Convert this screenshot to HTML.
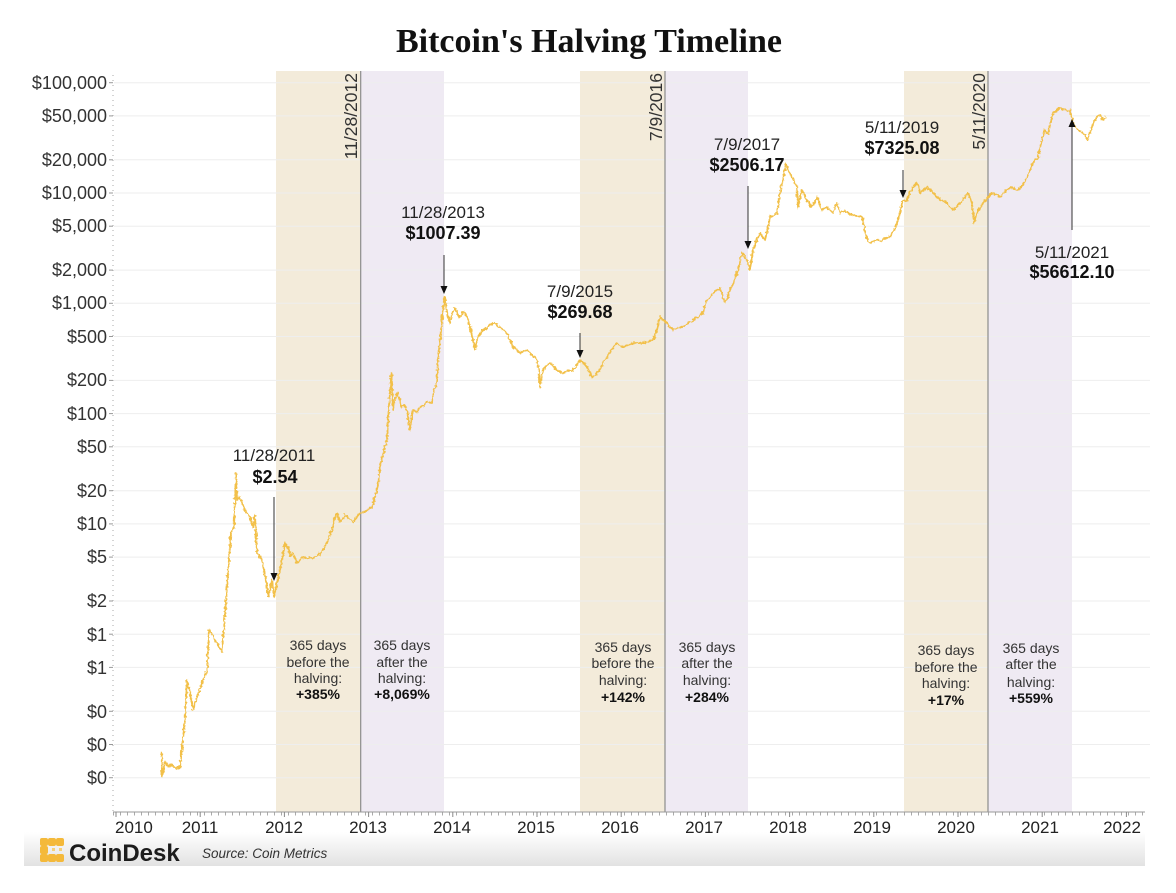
<!DOCTYPE html>
<html><head><meta charset="utf-8"><style>
html,body{margin:0;padding:0;background:#fff;}
svg{display:block;}
text{font-family:"Liberation Sans",Arial,sans-serif;}
</style></head><body>
<svg width="1176" height="893" viewBox="0 0 1176 893" xmlns="http://www.w3.org/2000/svg">
<defs>
<linearGradient id="fg" x1="0" y1="0" x2="0" y2="1">
<stop offset="0" stop-color="#ffffff"/>
<stop offset="1" stop-color="#e2e2e2"/>
</linearGradient>
<filter id="jit" filterUnits="userSpaceOnUse" x="100" y="60" width="1060" height="760">
<feTurbulence type="fractalNoise" baseFrequency="0.35" numOctaves="2" seed="3" result="n"/>
<feDisplacementMap in="SourceGraphic" in2="n" scale="4" xChannelSelector="R" yChannelSelector="G"/>
</filter>
</defs>
<rect width="1176" height="893" fill="#fff"/>
<rect x="24" y="832" width="1121" height="34" fill="url(#fg)"/>

<rect x="276" y="71" width="84.7" height="741" fill="#f3ebda"/>
<rect x="360.7" y="71" width="83.3" height="741" fill="#efeaf3"/>
<rect x="580" y="71" width="85" height="741" fill="#f3ebda"/>
<rect x="665" y="71" width="83" height="741" fill="#efeaf3"/>
<rect x="904" y="71" width="84" height="741" fill="#f3ebda"/>
<rect x="988" y="71" width="84" height="741" fill="#efeaf3"/>

<g stroke="#eeeeee" stroke-width="1">
<line x1="114" x2="1150" y1="82.7" y2="82.7"/>
<line x1="114" x2="1150" y1="115.9" y2="115.9"/>
<line x1="114" x2="1150" y1="159.8" y2="159.8"/>
<line x1="114" x2="1150" y1="193" y2="193"/>
<line x1="114" x2="1150" y1="226.2" y2="226.2"/>
<line x1="114" x2="1150" y1="270.1" y2="270.1"/>
<line x1="114" x2="1150" y1="303.3" y2="303.3"/>
<line x1="114" x2="1150" y1="336.5" y2="336.5"/>
<line x1="114" x2="1150" y1="380.4" y2="380.4"/>
<line x1="114" x2="1150" y1="413.6" y2="413.6"/>
<line x1="114" x2="1150" y1="446.8" y2="446.8"/>
<line x1="114" x2="1150" y1="490.7" y2="490.7"/>
<line x1="114" x2="1150" y1="523.9" y2="523.9"/>
<line x1="114" x2="1150" y1="557.1" y2="557.1"/>
<line x1="114" x2="1150" y1="601" y2="601"/>
<line x1="114" x2="1150" y1="634.2" y2="634.2"/>
<line x1="114" x2="1150" y1="667.4" y2="667.4"/>
<line x1="114" x2="1150" y1="711.3" y2="711.3"/>
<line x1="114" x2="1150" y1="744.5" y2="744.5"/>
<line x1="114" x2="1150" y1="777.7" y2="777.7"/>
</g>

<g stroke="#8c8c8c" stroke-width="1.2">
<line x1="360.7" x2="360.7" y1="71" y2="812"/>
<line x1="665" x2="665" y1="71" y2="812"/>
<line x1="988" x2="988" y1="71" y2="812"/>
</g>

<line x1="113" x2="113" y1="75" y2="812" stroke="#aaa" stroke-width="1" stroke-dasharray="1 4"/>
<g stroke="#999" stroke-width="1">
<line x1="109" x2="113" y1="82.7" y2="82.7"/><line x1="109" x2="113" y1="115.9" y2="115.9"/>
<line x1="109" x2="113" y1="159.8" y2="159.8"/><line x1="109" x2="113" y1="193" y2="193"/>
<line x1="109" x2="113" y1="226.2" y2="226.2"/><line x1="109" x2="113" y1="270.1" y2="270.1"/>
<line x1="109" x2="113" y1="303.3" y2="303.3"/><line x1="109" x2="113" y1="336.5" y2="336.5"/>
<line x1="109" x2="113" y1="380.4" y2="380.4"/><line x1="109" x2="113" y1="413.6" y2="413.6"/>
<line x1="109" x2="113" y1="446.8" y2="446.8"/><line x1="109" x2="113" y1="490.7" y2="490.7"/>
<line x1="109" x2="113" y1="523.9" y2="523.9"/><line x1="109" x2="113" y1="557.1" y2="557.1"/>
<line x1="109" x2="113" y1="601" y2="601"/><line x1="109" x2="113" y1="634.2" y2="634.2"/>
<line x1="109" x2="113" y1="667.4" y2="667.4"/><line x1="109" x2="113" y1="711.3" y2="711.3"/>
<line x1="109" x2="113" y1="744.5" y2="744.5"/><line x1="109" x2="113" y1="777.7" y2="777.7"/>
</g>
<g font-size="18" fill="#333" text-anchor="end">
<text x="107" y="89">$100,000</text>
<text x="107" y="122">$50,000</text>
<text x="107" y="166">$20,000</text>
<text x="107" y="199">$10,000</text>
<text x="107" y="232">$5,000</text>
<text x="107" y="276">$2,000</text>
<text x="107" y="309">$1,000</text>
<text x="107" y="343">$500</text>
<text x="107" y="386">$200</text>
<text x="107" y="420">$100</text>
<text x="107" y="453">$50</text>
<text x="107" y="497">$20</text>
<text x="107" y="530">$10</text>
<text x="107" y="563">$5</text>
<text x="107" y="607">$2</text>
<text x="107" y="641">$1</text>
<text x="107" y="674">$1</text>
<text x="107" y="718">$0</text>
<text x="107" y="751">$0</text>
<text x="107" y="784">$0</text>
</g>

<line x1="113" x2="1145" y1="812" y2="812" stroke="#999" stroke-width="1"/>
<line x1="113" x2="1145" y1="814" y2="814" stroke="#aaa" stroke-width="3" stroke-dasharray="1 6"/>
<g stroke="#888" stroke-width="1">
<line x1="116" x2="116" y1="812" y2="817"/><line x1="200.2" x2="200.2" y1="812" y2="817"/>
<line x1="284.4" x2="284.4" y1="812" y2="817"/><line x1="368.6" x2="368.6" y1="812" y2="817"/>
<line x1="452.8" x2="452.8" y1="812" y2="817"/><line x1="537" x2="537" y1="812" y2="817"/>
<line x1="621.2" x2="621.2" y1="812" y2="817"/><line x1="705.4" x2="705.4" y1="812" y2="817"/>
<line x1="789.6" x2="789.6" y1="812" y2="817"/><line x1="873.8" x2="873.8" y1="812" y2="817"/>
<line x1="958" x2="958" y1="812" y2="817"/><line x1="1042.2" x2="1042.2" y1="812" y2="817"/>
<line x1="1126.4" x2="1126.4" y1="812" y2="817"/>
</g>
<g font-size="17" fill="#222" text-anchor="middle">
<text x="115" y="833" text-anchor="start">2010</text>
<text x="200" y="833">2011</text>
<text x="284" y="833">2012</text>
<text x="368" y="833">2013</text>
<text x="452" y="833">2014</text>
<text x="536" y="833">2015</text>
<text x="620" y="833">2016</text>
<text x="704" y="833">2017</text>
<text x="788" y="833">2018</text>
<text x="872" y="833">2019</text>
<text x="956" y="833">2020</text>
<text x="1040" y="833">2021</text>
<text x="1122" y="833">2022</text>
</g>

<g font-size="17.5" fill="#333" text-anchor="end">
<text transform="translate(357,73) rotate(-90)">11/28/2012</text>
<text transform="translate(662,73) rotate(-90)">7/9/2016</text>
<text transform="translate(985,73) rotate(-90)">5/11/2020</text>
</g>

<polyline filter="url(#jit)" fill="none" stroke="#f2c048" stroke-width="1.8" stroke-linejoin="round" points="
161.7,751.7 162,777 165,762 168,766 172,765 176,768 180,768 181.7,750 185,720 187,680 190,693 193,710 197,697 203,680 207,670 209,630 212,634 215,640 218,645 222,652 225,613 228,573 231,533 234,527 236,473 237,500 240,497 245,510 250,517 253,527 255,515 257,553 262,560 265,575 267,587 268,597 270,590 272,580 274,597 277,583 281,565 285,543 288,548 291,556 293,553 297,563 300,560 303,557 308,558 313,558 317,556 320,553 324,548 327,543 330,535 332,530 334,520 337,513 340,522 343,518 345,515 349,518 353,523 356,518 360,513 366,511 372,507 375,497 378,485 380,467 383,455 386,443 387,440 389,405 390,393 391.5,373 393,410 395,400 397,393 400,400 402,407 405,405 407,410 409,425 410,430 412,415 413,410 417,412 420,407 424,405 427,402 432,403 433,393 436,385 437,380 438,360 440,340 442,320 444,300 445,297 447,313 450,323 452,315 455,308 458,315 460,317 463,312 465,313 468,320 470,327 473,340 475,350 477,340 480,333 484,330 487,327 490,325 493,323 497,325 500,327 503,330 507,333 510,340 513,347 517,350 520,353 524,351 527,350 532,355 537,360 539,370 540,387 542,375 543,370 547,365 550,363 553,366 557,370 560,372 563,373 568,371 573,370 577,365 580,360 584,363 587,367 590,373 592,377 596,374 600,370 603,363 607,357 610,352 613,348 617,343 620,346 623,347 628,345 633,343 638,343 643,343 648,342 653,340 657,330 660,317 663,320 667,323 670,327 673,330 678,328 683,327 688,323 693,320 698,317 703,313 705,306 707,300 710,297 713,293 717,290 720,288 725,303 728,296 730,290 734,282 737,273 740,262 742,253 745,257 747,260 750,270 753,250 757,240 760,233 763,238 765,240 768,228 770,217 774,215 777,213 780,193 783,180 786,163 788,170 790,174 792,177 795,183 797,187 798,207 800,197 802,190 805,196 807,200 810,204 812,207 815,201 817,197 820,205 822,210 825,208 827,207 830,210 833,213 835,207 837,203 840,213 844,211 847,212 850,214 853,215 857,216 862,217 864,225 865,233 868,240 870,243 874,241 877,240 880,241 883,240 887,238 890,237 894,230 897,223 900,212 902,203 904,201 907,200 910,193 913,187 917,183 920,193 924,190 927,187 930,190 933,193 937,197 940,200 944,201 947,203 950,207 953,210 958,205 963,200 966,196 968,193 970,198 972,203 974,223 976,216 977,213 980,208 983,203 986,200 988,197 991,194 993,193 997,195 1000,197 1003,193 1007,190 1010,188 1012,187 1015,189 1017,190 1020,188 1023,185 1027,177 1030,170 1033,163 1035,160 1038,158 1040,148 1042,140 1045,130 1048,135 1050,125 1053,113 1057,110 1060,107 1063,110 1065,109 1068,111 1070,110 1073,122 1076,128 1078,130 1083,133 1086,137 1088,140 1090,133 1092,127 1095,120 1097,117 1100,115 1103,120 1106,117"/>

<g stroke="#333" stroke-width="1">
<line x1="274" x2="274" y1="497" y2="574"/>
<line x1="444" x2="444" y1="255" y2="287"/>
<line x1="580" x2="580" y1="333" y2="351"/>
<line x1="748" x2="748" y1="186" y2="242"/>
<line x1="903" x2="903" y1="170" y2="191"/>
<line x1="1072" x2="1072" y1="230" y2="126"/>
</g>
<g fill="#111">
<polygon points="270.5,573 277.5,573 274,581"/>
<polygon points="440.5,286 447.5,286 444,294"/>
<polygon points="576.5,350 583.5,350 580,358"/>
<polygon points="744.5,241 751.5,241 748,249"/>
<polygon points="899.5,190 906.5,190 903,198"/>
<polygon points="1068.5,127 1075.5,127 1072,119"/>
</g>

<g text-anchor="middle" fill="#222">
<text x="274" y="461" font-size="17">11/28/2011</text>
<text x="275" y="483" font-size="18" font-weight="bold" fill="#111">$2.54</text>
<text x="443" y="218" font-size="17">11/28/2013</text>
<text x="443" y="239" font-size="18" font-weight="bold" fill="#111">$1007.39</text>
<text x="580" y="297" font-size="17">7/9/2015</text>
<text x="580" y="318" font-size="18" font-weight="bold" fill="#111">$269.68</text>
<text x="747" y="150" font-size="17">7/9/2017</text>
<text x="747" y="171" font-size="18" font-weight="bold" fill="#111">$2506.17</text>
<text x="902" y="133" font-size="17">5/11/2019</text>
<text x="902" y="154" font-size="18" font-weight="bold" fill="#111">$7325.08</text>
<text x="1072" y="258" font-size="17">5/11/2021</text>
<text x="1072" y="278" font-size="18" font-weight="bold" fill="#111">$56612.10</text>
</g>

<g text-anchor="middle" font-size="14" fill="#333">
<text x="318" y="650">365 days</text><text x="318" y="667">before the</text><text x="318" y="683">halving:</text><text x="318" y="699" font-weight="bold" fill="#111">+385%</text>
<text x="402" y="650">365 days</text><text x="402" y="667">after the</text><text x="402" y="683">halving:</text><text x="402" y="699" font-weight="bold" fill="#111">+8,069%</text>
<text x="623" y="652">365 days</text><text x="623" y="668">before the</text><text x="623" y="685">halving:</text><text x="623" y="702" font-weight="bold" fill="#111">+142%</text>
<text x="707" y="652">365 days</text><text x="707" y="668">after the</text><text x="707" y="685">halving:</text><text x="707" y="702" font-weight="bold" fill="#111">+284%</text>
<text x="946" y="655">365 days</text><text x="946" y="672">before the</text><text x="946" y="688">halving:</text><text x="946" y="705" font-weight="bold" fill="#111">+17%</text>
<text x="1031" y="653">365 days</text><text x="1031" y="669">after the</text><text x="1031" y="687">halving:</text><text x="1031" y="703" font-weight="bold" fill="#111">+559%</text>
</g>

<text x="589" y="52" text-anchor="middle" font-weight="bold" font-size="34" fill="#111" style="font-family:'Liberation Serif',serif">Bitcoin's Halving Timeline</text>

<g fill="#f4b93a">
<rect x="40" y="838" width="8" height="8" rx="2"/>
<rect x="48" y="838" width="8" height="8" rx="2"/>
<rect x="56" y="838" width="8" height="8" rx="2"/>
<rect x="40" y="846" width="8" height="8" rx="2"/>
<rect x="40" y="854" width="8" height="8" rx="2"/>
<rect x="48" y="854" width="8" height="8" rx="2"/>
<rect x="56" y="854" width="8" height="8" rx="2"/>
</g>
<g fill="#f6d17a">
<rect x="52" y="848" width="3" height="3"/>
<rect x="59" y="848" width="3" height="3"/>
</g>
<text x="69" y="861" font-size="24" font-weight="bold" fill="#1c1c1c">CoinDesk</text>
<text x="202" y="858" font-size="13.5" font-style="italic" fill="#333">Source: Coin Metrics</text>
</svg>
</body></html>
